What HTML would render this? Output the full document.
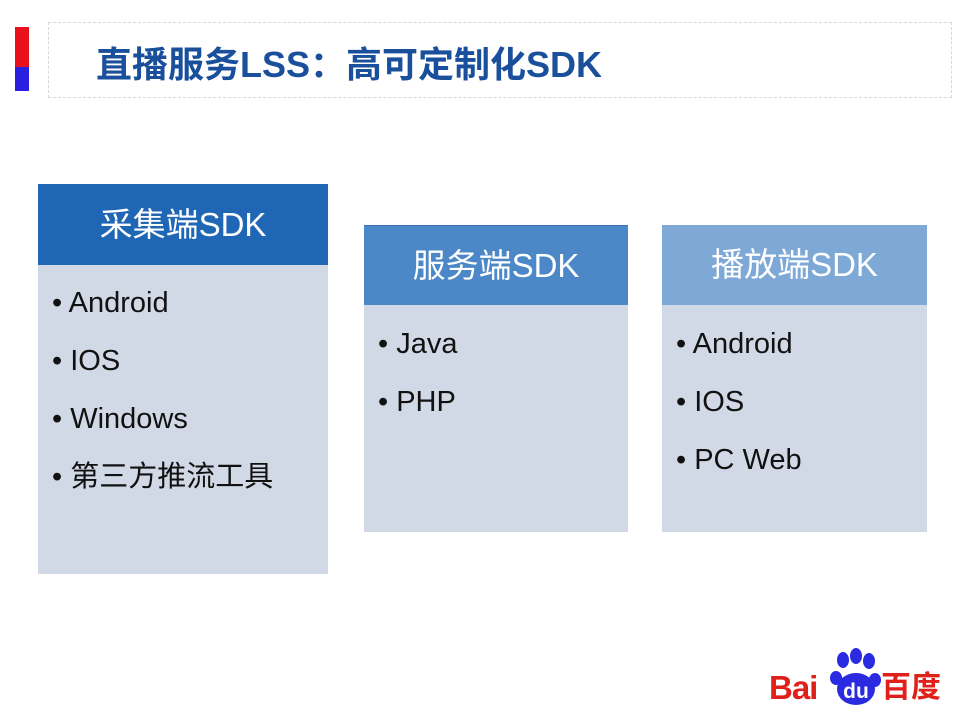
<!DOCTYPE html>
<html><head><meta charset="utf-8"><style>
body{margin:0;width:960px;height:720px;background:#fff;position:relative;overflow:hidden;font-family:"Liberation Sans","Noto Sans CJK SC",sans-serif}
.a{position:absolute}
.h{color:#fff;font-size:33px;text-align:center;box-sizing:border-box;}
.b{background:#d1d9e6;box-sizing:border-box;}
.li{position:absolute;font-size:29px;line-height:34px;height:34px;color:#111;white-space:nowrap}
</style></head><body>
<div class="a" style="left:15px;top:27px;width:14px;height:40px;background:#e8101a"></div>
<div class="a" style="left:15px;top:67px;width:14px;height:24px;background:#2a1ee0"></div>
<div class="a" style="left:48px;top:22px;width:904px;height:76px;border:1px dashed #d8d8d8;box-sizing:border-box"></div>
<div class="a" style="left:96px;top:36px;font-size:36px;font-weight:bold;color:#1a4f9c;white-space:nowrap">直播服务LSS：高可定制化SDK</div>

<div class="a b" style="left:38px;top:265px;width:290px;height:309px"></div>
<div class="a h" style="left:38px;top:184px;width:290px;height:81px;background:#1f66b4;line-height:81px">采集端SDK</div>
<div class="li" style="left:52px;top:286px">• Android</div>
<div class="li" style="left:52px;top:344px">• IOS</div>
<div class="li" style="left:52px;top:402px">• Windows</div>
<div class="li" style="left:52px;top:460px">• 第三方推流工具</div>

<div class="a b" style="left:364px;top:305px;width:264px;height:227px"></div>
<div class="a h" style="left:364px;top:225px;width:264px;height:80px;background:#4c88c7;line-height:80px;border-top:1px solid #3a70b0">服务端SDK</div>
<div class="li" style="left:378px;top:327px">• Java</div>
<div class="li" style="left:378px;top:385px">• PHP</div>

<div class="a b" style="left:662px;top:305px;width:265px;height:227px"></div>
<div class="a h" style="left:662px;top:225px;width:265px;height:80px;background:#7ea9d7;line-height:80px">播放端SDK</div>
<div class="li" style="left:676px;top:327px">• Android</div>
<div class="li" style="left:676px;top:385px">• IOS</div>
<div class="li" style="left:676px;top:443px">• PC Web</div>

<div class="a" style="left:769px;top:670px;font-size:33px;line-height:36px;font-weight:bold;color:#e0201a;letter-spacing:-1px">Bai</div>
<svg class="a" style="left:828px;top:648px" width="54" height="60">
<ellipse cx="15" cy="12" rx="6" ry="8" fill="#2a2ae0"/><ellipse cx="28" cy="8" rx="6" ry="8" fill="#2a2ae0"/>
<ellipse cx="41" cy="13" rx="6" ry="8" fill="#2a2ae0"/><ellipse cx="8" cy="30" rx="6" ry="7" fill="#2a2ae0"/>
<ellipse cx="47" cy="32" rx="6" ry="7" fill="#2a2ae0"/><ellipse cx="28" cy="41" rx="19" ry="16" fill="#2a2ae0"/>
<text x="28" y="50" font-size="21" font-weight="bold" fill="#fff" text-anchor="middle" font-family="Liberation Sans">du</text></svg>
<div class="a" style="left:881px;top:671px;font-size:30px;line-height:34px;font-weight:bold;color:#e0201a">百度</div>
</body></html>
